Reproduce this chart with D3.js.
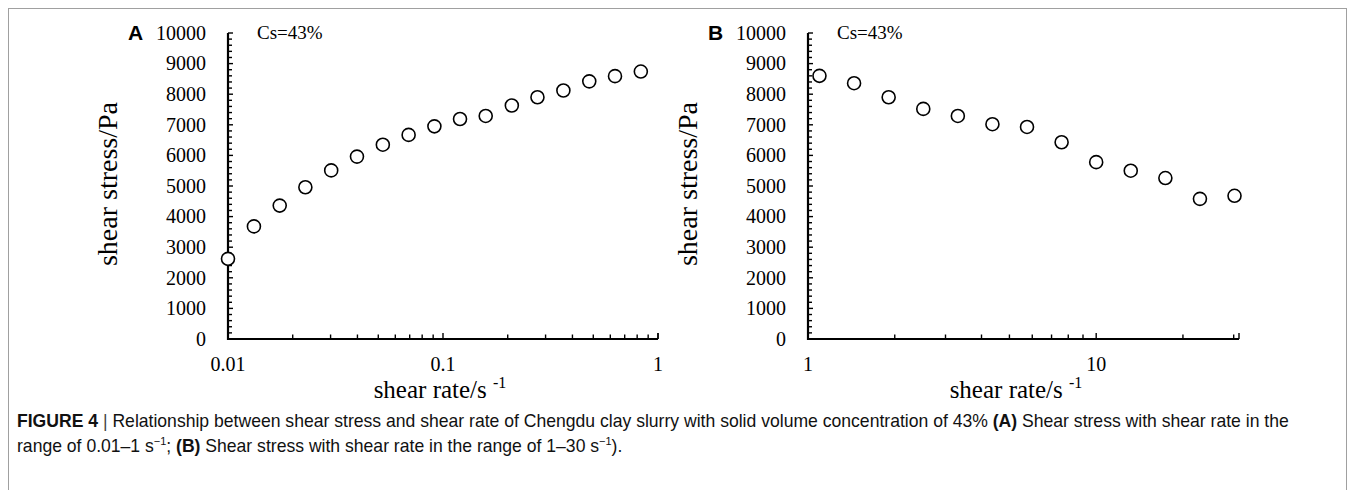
<!DOCTYPE html>
<html>
<head>
<meta charset="utf-8">
<script src="https://cdn.jsdelivr.net/npm/d3@7"></script>
<style>
  html, body { margin: 0; padding: 0; background: #fff; }
  svg { display: block; }
</style>
</head>
<body>
<svg id="fig" width="1355" height="490"></svg>
<script>
// Shear rate (s^-1) and shear stress (Pa), Chengdu clay slurry, Cs = 43%
const rateA = [0.0100, 0.0132, 0.0174, 0.0229, 0.0302, 0.0398, 0.0525, 0.0692,
               0.0912, 0.120, 0.158, 0.209, 0.275, 0.363, 0.479, 0.631, 0.832];
const stressA = [2620, 3680, 4360, 4960, 5510, 5960, 6350, 6670,
                 6950, 7190, 7290, 7630, 7900, 8120, 8420, 8590, 8740];

const rateB = [1.096, 1.445, 1.905, 2.512, 3.311, 4.365, 5.754, 7.586,
               10.00, 13.18, 17.38, 22.91, 30.20];
const stressB = [8600, 8360, 7900, 7520, 7290, 7020, 6930, 6430,
                 5780, 5500, 5260, 4580, 4680];

const yTicks = [0, 1000, 2000, 3000, 4000, 5000, 6000, 7000, 8000, 9000, 10000];
const xTicksA = [0.01, 0.1, 1];
const xTicksB = [1, 10];

const svg = d3.select("#fig");
const serif = "'Liberation Serif', 'Times New Roman', serif";
const sans = "'Liberation Sans', Arial, sans-serif";

// outer frame
svg.append("rect")
  .attr("x", 8.5).attr("y", 8.5).attr("width", 1338).attr("height", 490)
  .attr("fill", "none").attr("stroke", "#a0a0a0").attr("stroke-width", 1);

function panel(opt) {
  const g = svg.append("g");
  const x = d3.scaleLog().domain(opt.xDomain).range([opt.left, opt.right]);
  const y = d3.scaleLinear().domain([0, 10000]).range([339, 33]);

  // y minor ticks (inside)
  const yMinor = d3.range(0, 10001, 200);
  g.append("g").selectAll("line").data(yMinor).join("line")
    .attr("x1", opt.left).attr("x2", d => opt.left + (d % 1000 === 0 ? 5 : 4))
    .attr("y1", d => y(d)).attr("y2", d => y(d))
    .attr("stroke", "#000").attr("stroke-width", 1.4);

  // x minor ticks on log axis (inside)
  const xMinor = [];
  const lo = Math.floor(Math.log10(opt.xDomain[0]));
  const hi = Math.ceil(Math.log10(opt.xDomain[1]));
  for (let e = lo; e < hi; e++) {
    for (let m = 1; m <= 9; m++) {
      const v = m * Math.pow(10, e);
      if (v >= opt.xDomain[0] * 0.999 && v <= opt.xDomain[1] * 1.001) xMinor.push(v);
    }
  }
  const isDecade = d => Math.abs(Math.log10(d) - Math.round(Math.log10(d))) < 1e-6;
  if (isDecade(opt.xDomain[1])) xMinor.push(opt.xDomain[1]);
  g.append("g").selectAll("line").data(xMinor).join("line")
    .attr("x1", d => x(d)).attr("x2", d => x(d))
    .attr("y1", 339).attr("y2", d => 339 - (isDecade(d) ? 6 : 4.5))
    .attr("stroke", "#000").attr("stroke-width", 1.4);
  // closing tick at axis end
  g.append("line")
    .attr("x1", opt.right).attr("x2", opt.right).attr("y1", 339).attr("y2", 333)
    .attr("stroke", "#000").attr("stroke-width", 1.4);

  // axis lines
  g.append("line").attr("x1", opt.left).attr("x2", opt.left).attr("y1", 33).attr("y2", 340)
    .attr("stroke", "#000").attr("stroke-width", 2.2);
  g.append("line").attr("x1", opt.left - 1).attr("x2", opt.right).attr("y1", 339).attr("y2", 339)
    .attr("stroke", "#000").attr("stroke-width", 2.2);

  // y tick labels
  g.append("g").selectAll("text").data(yTicks).join("text")
    .attr("x", opt.left - 22).attr("y", d => y(d))
    .attr("dy", "0.34em").attr("text-anchor", "end")
    .attr("font-family", serif).attr("font-size", 20).text(d => d);

  // x tick labels
  g.append("g").selectAll("text").data(opt.xTicks).join("text")
    .attr("x", d => x(d)).attr("y", 371)
    .attr("text-anchor", "middle")
    .attr("font-family", serif).attr("font-size", 20).text(d => d);

  // axis titles
  const xt = g.append("text").attr("x", opt.xTitleX).attr("y", 398)
    .attr("text-anchor", "middle").attr("font-family", serif).attr("font-size", 25);
  xt.append("tspan").text("shear rate/s ");
  xt.append("tspan").attr("font-size", 16).attr("dy", -10).text("-1");

  g.append("text")
    .attr("transform", `translate(${opt.left - 111},184) rotate(-90)`)
    .attr("text-anchor", "middle").attr("font-family", serif).attr("font-size", 28)
    .text("shear stress/Pa");

  // panel letter and concentration note
  g.append("text").attr("x", opt.left - 100).attr("y", 40)
    .attr("font-family", sans).attr("font-weight", "bold").attr("font-size", 21)
    .text(opt.letter);
  g.append("text").attr("x", opt.left + 29).attr("y", 39)
    .attr("font-family", serif).attr("font-size", 19).text("Cs=43%");

  // data points
  g.append("g").selectAll("circle").data(opt.rate.map((r, i) => [r, opt.stress[i]])).join("circle")
    .attr("cx", d => x(d[0])).attr("cy", d => y(d[1])).attr("r", 6.5)
    .attr("fill", "#fff").attr("stroke", "#000").attr("stroke-width", 1.6);
}

panel({ left: 228, right: 658, xDomain: [0.01, 1], xTicks: xTicksA,
        rate: rateA, stress: stressA, letter: "A", xTitleX: 440 });
panel({ left: 808, right: 1239, xDomain: [1, 31.3], xTicks: xTicksB,
        rate: rateB, stress: stressB, letter: "B", xTitleX: 1016 });

// caption, sized so the first line spans the figure width
const capSize = 15;
const cap1 = svg.append("text").attr("x", 17).attr("y", 427)
  .attr("font-family", sans).attr("font-size", capSize).attr("fill", "#111");
cap1.append("tspan").attr("font-weight", "bold").text("FIGURE 4 ");
cap1.append("tspan").attr("fill", "#444").text("| ");
cap1.append("tspan").text("Relationship between shear stress and shear rate of Chengdu clay slurry with solid volume concentration of 43% ");
cap1.append("tspan").attr("font-weight", "bold").text("(A)");
cap1.append("tspan").text(" Shear stress with shear rate in the");

const cap2 = svg.append("text").attr("x", 17).attr("y", 452)
  .attr("font-family", sans).attr("font-size", capSize).attr("fill", "#111");
cap2.append("tspan").text("range of 0.01\u20131 s");
cap2.append("tspan").attr("class", "sup").attr("dy", -7).text("\u22121");
cap2.append("tspan").attr("dy", 7).text("; ");
cap2.append("tspan").attr("font-weight", "bold").text("(B)");
cap2.append("tspan").text(" Shear stress with shear rate in the range of 1\u201330 s");
cap2.append("tspan").attr("class", "sup").attr("dy", -7).text("\u22121");
cap2.append("tspan").attr("dy", 7).text(").");

const natural = cap1.node().getComputedTextLength();
const fitted = capSize * 1273 / natural;
cap1.attr("font-size", fitted);
cap2.attr("font-size", fitted);
cap2.selectAll("tspan.sup").attr("font-size", fitted * 0.62);
</script>
</body>
</html>
